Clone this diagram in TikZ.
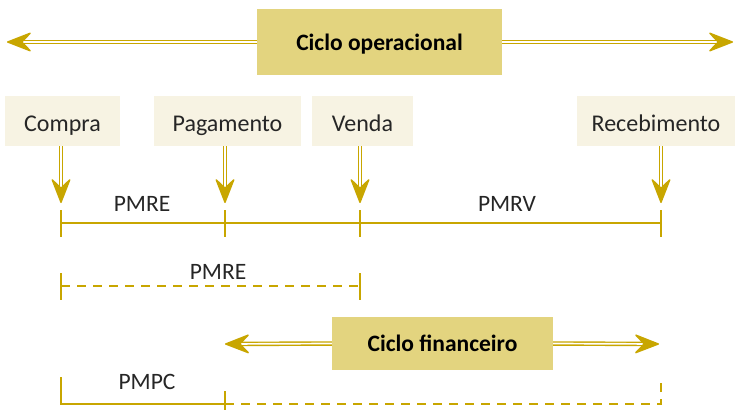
\documentclass[tikz,border=0pt]{standalone}
\usepackage{fontspec}
\setmainfont{Carlito}
\usetikzlibrary{arrows.meta}
\definecolor{gold}{HTML}{C8A600}
\definecolor{boxdark}{HTML}{E3D47F}
\definecolor{boxlight}{HTML}{F7F3E3}
\begin{document}
\begin{tikzpicture}[x=1pt,y=-1pt,
  dbl/.style={draw=gold, line width=1.4pt, double=white, double distance=1.7pt},
  tipend/.style={-{Stealth[length=27pt,width=21pt,inset=10pt,round=false]}},
  axis/.style={draw=gold, line width=2.6pt},
  dashaxis/.style={draw=gold, line width=2.6pt, dash pattern=on 9pt off 7pt},
  event/.style={fill=boxlight, inner sep=0pt, font=\fontsize{24}{28}\selectfont, text=black!85, text height=20pt, text depth=0pt},
  cycle/.style={fill=boxdark, inner sep=0pt, font=\fontsize{23.5}{28}\selectfont\bfseries, text=black, text height=16.5pt, text depth=0pt},
  lbl/.style={inner sep=0pt, font=\fontsize{23.5}{28}\selectfont, text=black!85}]
\useasboundingbox (0,0) rectangle (735,409);
% top cycle
\node[cycle, minimum width=245pt, minimum height=66pt] (op) at (379.5,42) {Ciclo operacional};
\coordinate (opL) at (7,42);
\coordinate (opR) at (733,42);
\draw[dbl, tipend] (op.west) -- (opL);
\draw[dbl, tipend] (op.east) -- (opR);
% events
\node[event, minimum width=115pt, minimum height=50pt] (compra) at (62.5,121) {Compra};
\node[event, minimum width=147pt, minimum height=50pt] (pag) at (227.5,121) {Pagamento};
\node[event, minimum width=101pt, minimum height=50pt] (venda) at (362.5,121) {Venda};
\node[event, minimum width=158pt, minimum height=50pt] (rec) at (656,121) {Recebimento};
% timeline points
\coordinate (t1) at (61,223);
\coordinate (t2) at (225,223);
\coordinate (t3) at (360,223);
\coordinate (t4) at (661,223);
\coordinate (a1) at (61,203);
\coordinate (a2) at (225,203);
\coordinate (a3) at (360,203);
\coordinate (a4) at (661,203);
\draw[dbl, tipend] (compra.south -| a1) -- (a1);
\draw[dbl, tipend] (pag.south -| a2) -- (a2);
\draw[dbl, tipend] (venda.south -| a3) -- (a3);
\draw[dbl, tipend] (rec.south -| a4) -- (a4);
\draw[axis] (t1) -- (t4);
\foreach \t in {t1,t2,t3,t4} \draw[axis] (\t) +(0,-13) -- +(0,14);
\node[lbl] (pmre) at (142,204) {PMRE};
\node[lbl] (pmrv) at (507,204) {PMRV};
% dashed PMRE
\coordinate (d1) at (61,286);
\coordinate (d2) at (360,286);
\draw[dashaxis] (d1) -- (d2);
\draw[axis] (d1) +(0,-13) -- +(0,14);
\draw[axis] (d2) +(0,-13) -- +(0,14);
\node[lbl] (pmre2) at (218,272) {PMRE};
% financial cycle
\node[cycle, minimum width=221pt, minimum height=53pt] (fin) at (442.5,343.5) {Ciclo financeiro};
\coordinate (finL) at (225,344);
\coordinate (finR) at (659,344);
\draw[dbl, tipend] (fin.west) -- (finL);
\draw[dbl, tipend] (fin.east) -- (finR);
% PMPC
\coordinate (p0) at (61,377);
\coordinate (p1) at (61,404);
\coordinate (p2) at (225,404);
\coordinate (p3) at (661,404);
\coordinate (p4) at (661,377);
\draw[axis, line join=miter] (p0) -- (p1) -- (p2);
\draw[axis] (p2) +(0,-13) -- +(0,6);
\draw[dashaxis, line join=miter] (p2) -- (p3) -- (p4);
\node[lbl] (pmpc) at (147,382) {PMPC};
\end{tikzpicture}
\end{document}
